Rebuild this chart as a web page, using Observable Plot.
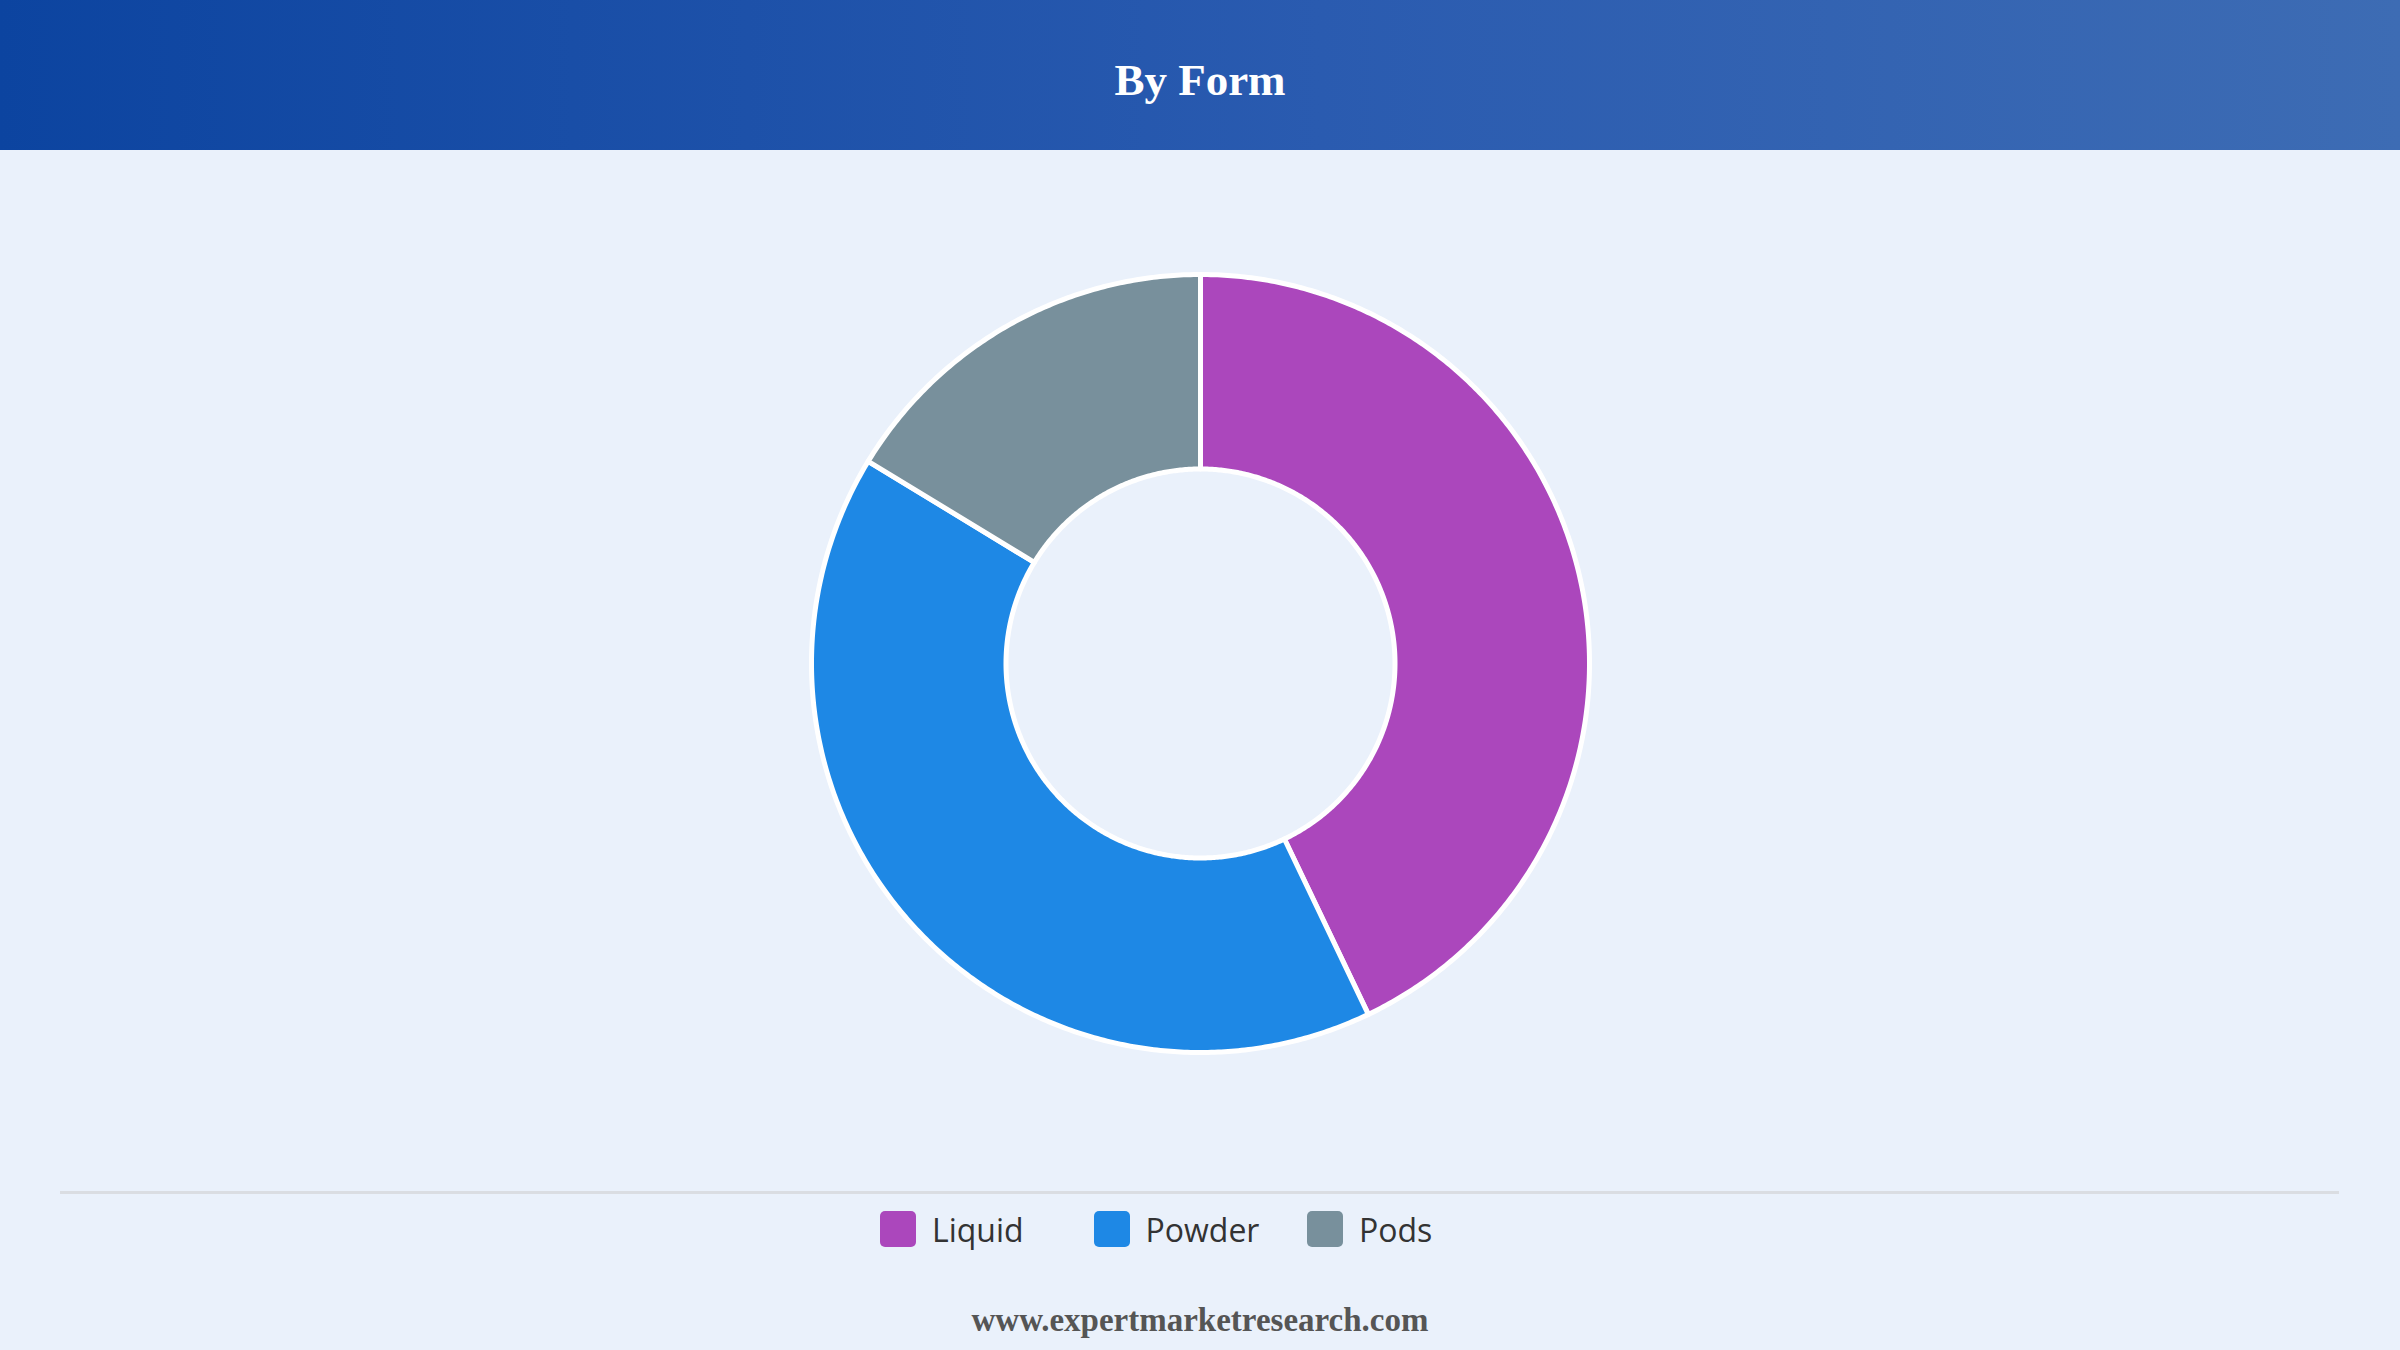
<!DOCTYPE html>
<html>
<head>
<meta charset="utf-8">
<script src="https://cdn.jsdelivr.net/npm/d3@7"></script>
<script src="https://cdn.jsdelivr.net/npm/@observablehq/plot@0.6"></script>
<style>
  html, body { margin: 0; padding: 0; width: 2400px; height: 1350px; overflow: hidden; background: #eaf1fb; }
  #header { position: absolute; left: 0; top: 0; width: 2400px; height: 150px;
    background: linear-gradient(90deg, #0c44a0 0%, #2a5bb0 55%, #3d6cb4 100%); }
  #title { position: absolute; left: 0; top: 0; width: 2400px; height: 150px; line-height: 160px;
    text-align: center; color: #fff; font-family: "Liberation Serif", "DejaVu Serif", serif;
    font-weight: bold; font-size: 45px; }
  #chart { position: absolute; left: 0; top: 150px; }
  #rule { position: absolute; left: 60px; top: 1191px; width: 2279px; height: 3px; background: #dadde2; }
  #legend { position: absolute; left: 880px; top: 1209px; height: 40px; display: flex; align-items: center;
    font-family: "Open Sans", "Noto Sans", sans-serif; font-size: 32px; color: #333; }
  .item { display: flex; align-items: center; width: 213.5px; }
  .sw { width: 36px; height: 36px; border-radius: 5px; margin-right: 16px; flex: none; }
  #footer { position: absolute; left: 0; top: 1302px; width: 2400px; text-align: center;
    font-family: "Liberation Serif", "DejaVu Serif", serif; font-weight: bold; font-size: 33px; color: #555; }
</style>
</head>
<body>
<div id="header"><div id="title">By Form</div></div>
<div id="chart"></div>
<div id="rule"></div>
<div id="legend"></div>
<div id="footer">www.expertmarketresearch.com</div>
<script>
const categories = ["Liquid", "Powder", "Pods"];
const shares = [42.9, 40.8, 16.3];
const colors = ["#ab47bc", "#1e88e5", "#78909c"];
const innerRatio = 0.5;

const pie = d3.pie().sort(null).value(d => d)(shares);
function pt(r, a) { return [r * Math.sin(a), -r * Math.cos(a)]; }
function arcRing(a0, a1, r0, r1) {
  const n = Math.max(8, Math.ceil((a1 - a0) / (Math.PI / 360)));
  const ring = [];
  for (let i = 0; i <= n; i++) ring.push(pt(r1, a0 + (a1 - a0) * i / n));
  for (let i = n; i >= 0; i--) ring.push(pt(r0, a0 + (a1 - a0) * i / n));
  ring.push(ring[0]);
  return ring;
}
const features = {
  type: "FeatureCollection",
  features: pie.map((p, i) => ({
    type: "Feature",
    properties: { name: categories[i] },
    geometry: { type: "Polygon", coordinates: [arcRing(p.startAngle, p.endAngle, innerRatio, 1)] }
  }))
};
const outline = { type: "Polygon", coordinates: [arcRing(0, 2 * Math.PI - 1e-6, 0, 1)] };

const chart = Plot.plot({
  width: 2400,
  height: 1026,
  marginTop: 124, marginBottom: 124, marginLeft: 0, marginRight: 0,
  projection: { type: "identity", domain: outline, inset: 0 },
  color: { domain: categories, range: colors },
  style: { background: "transparent", overflow: "visible" },
  marks: [
    Plot.geo(features.features, { fill: d => d.properties.name, stroke: "white", strokeWidth: 5 })
  ]
});
document.getElementById("chart").appendChild(chart);

const legend = document.getElementById("legend");
categories.forEach((c, i) => {
  const item = document.createElement("div");
  item.className = "item";
  const sw = document.createElement("div");
  sw.className = "sw";
  sw.style.background = colors[i];
  const label = document.createElement("span");
  label.textContent = c;
  item.appendChild(sw);
  item.appendChild(label);
  legend.appendChild(item);
});
</script>
</body>
</html>
